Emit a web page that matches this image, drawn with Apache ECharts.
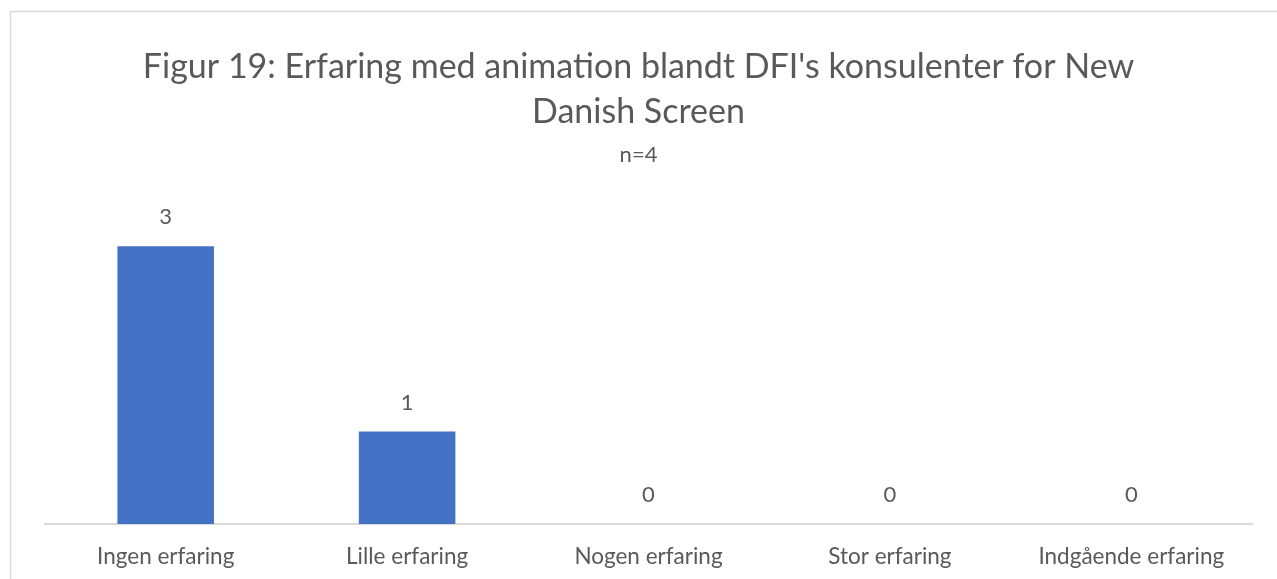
<!DOCTYPE html>
<html>
<head>
<meta charset="utf-8">
<script src="https://cdn.jsdelivr.net/npm/echarts@6/dist/echarts.min.js"></script>
<style>
  html, body { margin: 0; padding: 0; background: #fff; }
  #chart { width: 1277px; height: 579px; }
</style>
</head>
<body>
<div id="chart"></div>
<script>
const titleText = "Figur 19: Erfaring med animation blandt DFI's konsulenter for New\nDanish Screen";
const subText = 'n=4';
const categories = ['Ingen erfaring', 'Lille erfaring', 'Nogen erfaring', 'Stor erfaring', 'Indgående erfaring'];
const counts = [3, 1, 0, 0, 0];

const font = 'Lato, "Open Sans", sans-serif';
const grey = '#595959';

const chart = echarts.init(document.getElementById('chart'));
chart.setOption({
  animation: false,
  graphic: [{
    type: 'rect',
    shape: { x: 10.5, y: 11.5, width: 1400, height: 700 },
    style: { fill: 'none', stroke: '#d9d9d9', lineWidth: 1.5 }
  }],
  title: [
    {
      text: titleText,
      left: 'center',
      top: 40,
      textStyle: { fontFamily: font, fontSize: 34, fontWeight: 'normal', color: grey, lineHeight: 45 }
    },
    {
      text: subText,
      left: 'center',
      top: 138,
      textStyle: { fontFamily: font, fontSize: 22, fontWeight: 'normal', color: grey, lineHeight: 24 }
    }
  ],
  grid: { left: 45, right: 25, top: 200, bottom: 55 },
  xAxis: {
    type: 'category',
    data: categories,
    axisLine: { lineStyle: { color: '#d9d9d9', width: 2 } },
    axisTick: { show: false },
    axisLabel: { interval: 0, fontFamily: font, fontSize: 22.5, color: grey, margin: 21, lineHeight: 24 }
  },
  yAxis: {
    type: 'value',
    min: 0,
    max: 3.5,
    show: false,
    splitLine: { show: false }
  },
  series: [{
    type: 'bar',
    data: counts,
    barCategoryGap: '60%',
    itemStyle: { color: '#4472c4' },
    label: {
      show: true,
      position: 'top',
      distance: 17,
      fontFamily: font,
      fontSize: 22,
      lineHeight: 24,
      color: grey
    }
  }]
});
</script>
</body>
</html>
